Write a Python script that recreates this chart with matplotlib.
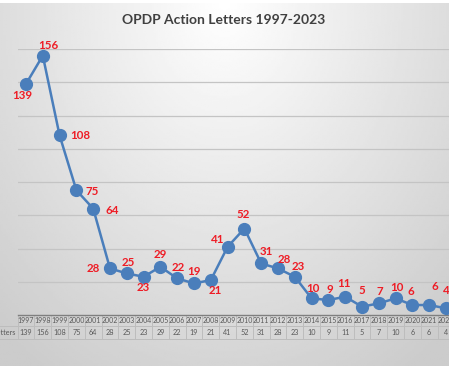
import numpy as np
import matplotlib.pyplot as plt

years = [1997, 1998, 1999, 2000, 2001, 2002, 2003, 2004, 2005, 2006, 2007, 2008, 2009,
         2010, 2011, 2012, 2013, 2014, 2015, 2016, 2017, 2018, 2019, 2020, 2021, 2022]
letters = [139, 156, 108, 75, 64, 28, 25, 23, 29, 22, 19, 21, 41,
           52, 31, 28, 23, 10, 9, 11, 5, 7, 10, 6, 6, 4]

# label placement in pixels (dx, dy, ha) - mimics the excel chart
label_pos = [(-4, -12, 'center'), (6, 10, 'center'), (11, 0, 'left'), (9, -1, 'left'),
             (12, -2, 'left'), (-10, 0, 'right'), (1, 11, 'center'), (0, -11, 'center'),
             (0, 12, 'center'), (1, 11, 'center'), (0, 12, 'center'), (4, -10, 'center'),
             (-10, 7, 'center'), (-1, 14, 'center'), (5, 12, 'center'), (6, 9, 'center'),
             (3, 10, 'center'), (1, 10, 'center'), (1, 11, 'center'), (-1, 13, 'center'),
             (0, 16, 'center'), (1, 12, 'center'), (1, 11, 'center'), (-2, 14, 'center'),
             (6, 19, 'center'), (0, 18, 'center')]

blue = '#4a7ebb'
red = '#ee1c25'
txt_gray = '#595959'

fig = plt.figure(figsize=(4.49, 3.75), dpi=100, facecolor='white')

# chart background gradient
bg = fig.add_axes([0, 9 / 375, 1, 363 / 375])
gx, gy = np.meshgrid(np.linspace(-1, 1, 200), np.linspace(0, 1, 200))
r = np.sqrt((gx * 0.8) ** 2 + gy ** 2)
bg.imshow(1 - 0.2 * np.clip(r, 0, 1.2) / 1.2, cmap='gray', vmin=0, vmax=1,
          aspect='auto', extent=[0, 1, 0, 1], origin='upper')
bg.set_axis_off()

col_w = 16.8
left = 17.6
ax = fig.add_axes([left / 449, 60 / 375, 26 * col_w / 449, 266 / 375])
ax.patch.set_alpha(0)
x = np.arange(len(years))
ax.plot(x, letters, color=blue, lw=1.8, marker='o', ms=8.5, zorder=3)
ax.set_xlim(-0.5, len(years) - 0.5)
ax.set_ylim(0, 160)
ax.set_yticks(np.arange(20, 161, 20))
ax.grid(axis='y', color='#c4c4c4', lw=0.9)
ax.tick_params(left=False, labelleft=False, bottom=False, labelbottom=False)
for s in ['top', 'right', 'left']:
    ax.spines[s].set_visible(False)
ax.spines['bottom'].set_color('#7f7f7f')
ax.spines['bottom'].set_linewidth(1.0)

for i, v in enumerate(letters):
    dx, dy, ha = label_pos[i]
    ax.annotate(str(v), (i, v), xytext=(dx, dy), textcoords='offset pixels',
                ha=ha, va='center', color=red, fontsize=8.3, fontweight='bold',
                family='Lato', zorder=4)

# data table under the axis
tr = ax.get_xaxis_transform()
h = 266.0
row1 = -11 / h
row2 = -24 / h
for i, (yr, v) in enumerate(zip(years, letters)):
    ax.text(i, row1 / 2, str(yr), transform=tr, ha='center', va='center',
            fontsize=5, color=txt_gray, family='Lato', clip_on=False)
    ax.text(i, (row1 + row2) / 2, str(v), transform=tr, ha='center', va='center',
            fontsize=5.2, color=txt_gray, family='Lato', clip_on=False)
for i in range(len(years) + 1):
    ax.plot([i - 0.5, i - 0.5], [0, row2], transform=tr, color='#bdbdbd',
            lw=0.7, clip_on=False)
x_min = -0.5 - left / col_w
ax.plot([x_min, len(years) - 0.5], [row1, row1], transform=tr, color='#bdbdbd',
        lw=0.7, clip_on=False)
ax.plot([x_min, len(years) - 0.5], [row2, row2], transform=tr, color='#bdbdbd',
        lw=0.7, clip_on=False)
ax.text(-0.62, (row1 + row2) / 2, 'Letters', transform=tr, ha='right', va='center',
        fontsize=5.2, color=txt_gray, family='Lato', clip_on=False)

fig.text(224 / 449, 1 - 20 / 375, 'OPDP Action Letters 1997-2023', ha='center',
         va='center', fontsize=10, fontweight='bold', color='#404040', family='Lato')

fig.savefig('out.png', dpi=100, facecolor='white')
